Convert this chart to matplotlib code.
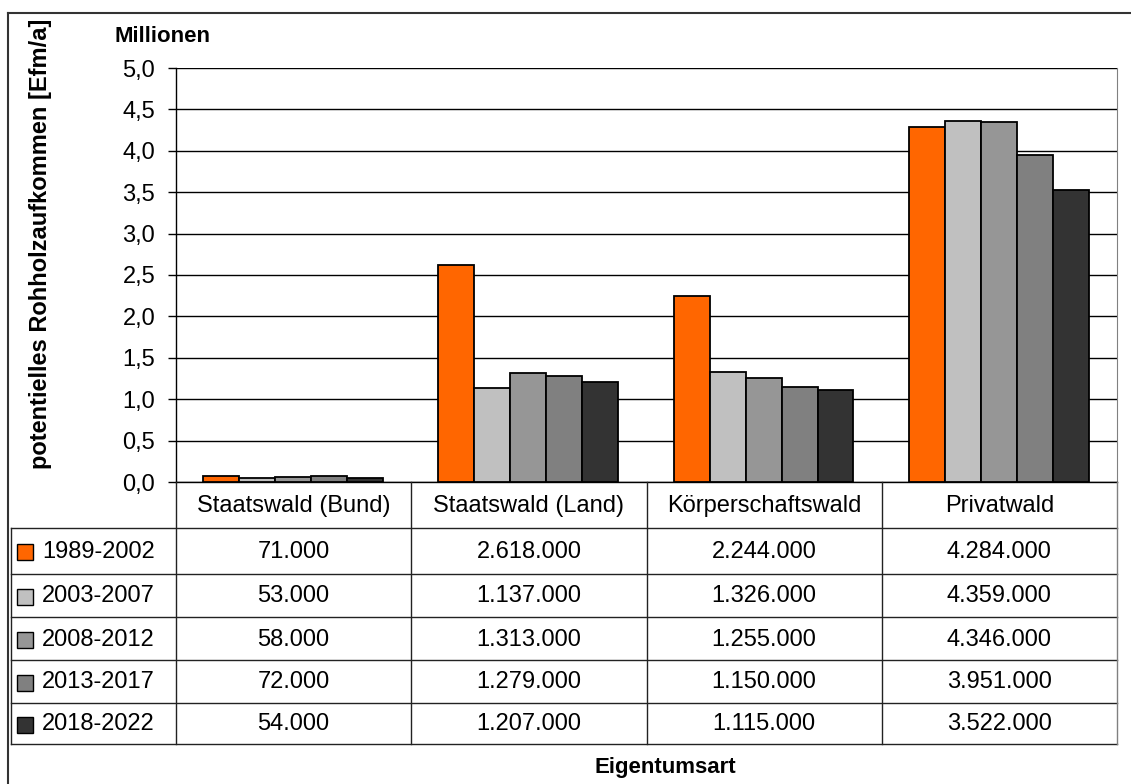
import matplotlib.pyplot as plt
import numpy as np
from matplotlib.lines import Line2D
from matplotlib.patches import Rectangle

plt.rcParams['font.family'] = ['Liberation Sans', 'DejaVu Sans']

categories = ['Staatswald (Bund)', 'Staatswald (Land)', 'Körperschaftswald', 'Privatwald']
periods = ['1989-2002', '2003-2007', '2008-2012', '2013-2017', '2018-2022']
values = [
    [71000, 2618000, 2244000, 4284000],
    [53000, 1137000, 1326000, 4359000],
    [58000, 1313000, 1255000, 4346000],
    [72000, 1279000, 1150000, 3951000],
    [54000, 1207000, 1115000, 3522000],
]
colors = ['#ff6600', '#c0c0c0', '#969696', '#808080', '#333333']
yticks = np.arange(0, 5.01, 0.5)

W, H = 1131, 784
fig = plt.figure(figsize=(W / 100, H / 100), dpi=100)
FS = 17


def fx(x):
    return x / W


def fy(y):
    return 1 - y / H


# plot area in pixels
L, R, T, B = 176, 1117, 68, 482
ax = fig.add_axes([fx(L), fy(B), fx(R - L), (B - T) / H])

ncat = len(categories)
bw = 0.153
x0 = np.arange(ncat) + 27 / 235
for i, p in enumerate(periods):
    v = np.array(values[i]) / 1e6
    ax.bar(x0 + i * bw, v, width=bw, align='edge', color=colors[i],
           edgecolor='black', linewidth=1.3, zorder=3)

ax.set_xlim(0, ncat)
ax.set_ylim(0, 5)
ax.set_yticks(yticks)
ax.set_yticklabels([f'{t:.1f}'.replace('.', ',') for t in yticks], fontsize=FS)
ax.set_xticks([])
ax.yaxis.grid(True, color='black', linewidth=1)
ax.set_axisbelow(True)
ax.tick_params(axis='y', length=6, width=1, pad=9)
ax.spines['top'].set_visible(False)
ax.spines['right'].set_color('#808080')
ax.spines['left'].set_linewidth(1)
ax.spines['bottom'].set_linewidth(1)

# labels
fig.text(fx(115), fy(36), 'Millionen', fontsize=16, fontweight='bold',
         ha='left', va='center')
fig.text(fx(41), fy(244), 'potentielles Rohholzaufkommen [Efm/a]', fontsize=17,
         fontweight='bold', rotation=90, ha='center', va='center')
fig.text(fx(665), fy(767), 'Eigentumsart', fontsize=16,
         fontweight='bold', ha='center', va='center')

# outer frame
fig.add_artist(Line2D([fx(8), fx(8)], [fy(13), 0], color='#333333', lw=1.5))
fig.add_artist(Line2D([fx(8), 1], [fy(13), fy(13)], color='#333333', lw=1.5))

# data table
cols = [L + (R - L) * k / ncat for k in range(ncat + 1)]
rows = [528, 574, 617, 660, 703, 744]
for y in rows:
    fig.add_artist(Line2D([fx(11), fx(R)], [fy(y), fy(y)], color='#222222', lw=1))
fig.add_artist(Line2D([fx(11), fx(11)], [fy(rows[0]), fy(rows[-1])], color='#222222', lw=1))
for x in cols[:-1]:
    fig.add_artist(Line2D([fx(x), fx(x)], [fy(B), fy(rows[-1])], color='#222222', lw=1))
fig.add_artist(Line2D([fx(R), fx(R)], [fy(B), fy(rows[-1])], color='#808080', lw=1))

for k, c in enumerate(categories):
    fig.text(fx((cols[k] + cols[k + 1]) / 2), fy((B + rows[0]) / 2 + 1), c,
             fontsize=FS, ha='center', va='center')

for i, p in enumerate(periods):
    yc = (rows[i] + rows[i + 1]) / 2 + 1
    fig.add_artist(Rectangle((fx(17), fy(yc + 8)), fx(16), 16 / H,
                             facecolor=colors[i], edgecolor='black', lw=1))
    fig.text(fx(42), fy(yc), p, fontsize=FS, ha='left', va='center')
    for k in range(ncat):
        s = f'{values[i][k]:,}'.replace(',', '.')
        fig.text(fx((cols[k] + cols[k + 1]) / 2), fy(yc), s,
                 fontsize=FS, ha='center', va='center')

fig.savefig('out.png', dpi=100)
